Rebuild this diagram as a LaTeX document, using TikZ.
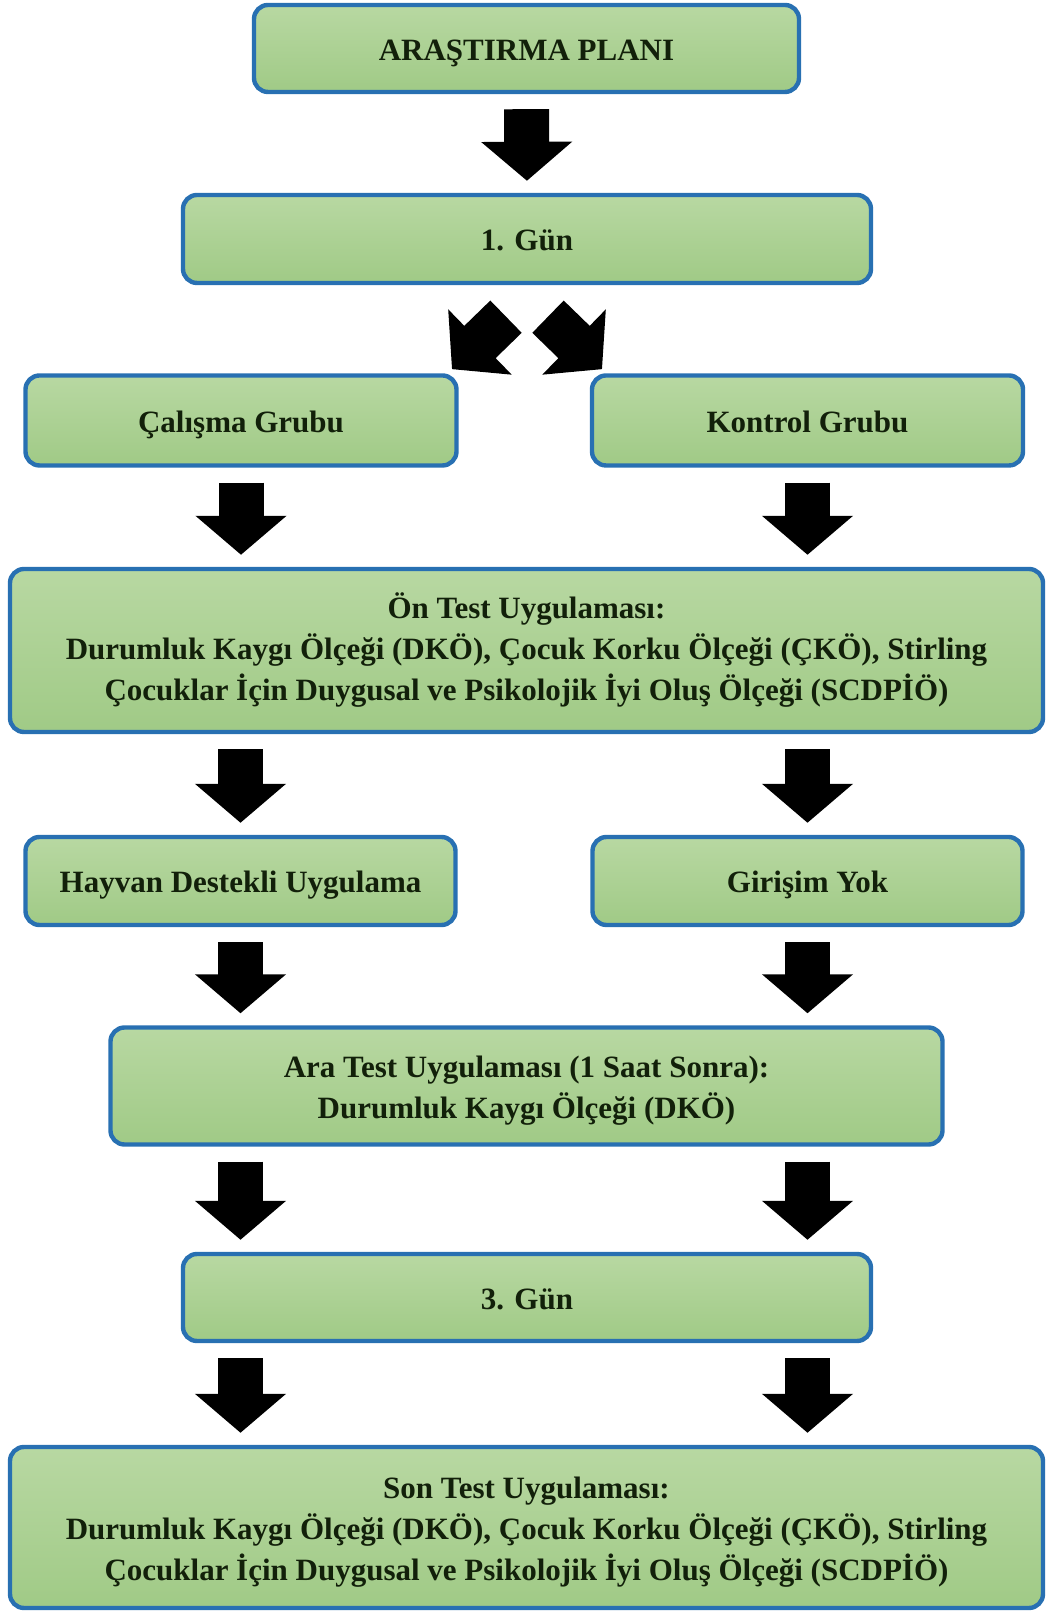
\documentclass[tikz,border=0pt]{standalone}
\usepackage{fontspec}
\setmainfont{Liberation Serif}
\usetikzlibrary{arrows.meta}

\definecolor{boxblue}{RGB}{40,112,178}
\definecolor{boxtop}{RGB}{184,216,162}
\definecolor{boxbot}{RGB}{160,202,134}
\definecolor{boxtext}{RGB}{18,32,10}

\newcommand{\ilkdestek}{\rule{0pt}{1em}}

\tikzset{
  box/.style={draw=boxblue, line width=2.2pt, rounded corners=7pt,
    top color=boxtop, bottom color=boxbot, text=boxtext, align=center,
    font=\fontsize{15.5}{20.5}\selectfont\bfseries, inner sep=0pt},
  onebox/.style={box, text height=1.4em, text depth=0.22em},
  blockarr/.style={line width=22.5pt, -{Triangle[length=19.5pt,width=44.5pt]},
    shorten <=7.5pt, shorten >=6pt},
}

\begin{document}
\begin{tikzpicture}[x=0.5pt,y=0.5pt]
\useasboundingbox (0,0) rectangle (1047,1611);

% kutular
\node[onebox, minimum width=272.5pt, minimum height=43.5pt] (plan) at (526.5,1562.5) {ARAŞTIRMA PLANI};
\node[onebox, minimum width=344pt, minimum height=44pt] (gun1) at (527,1372) {1. Gün};
\node[onebox, minimum width=215.5pt, minimum height=45pt] (calisma) at (241,1190.5) {Çalışma Grubu};
\node[onebox, minimum width=215.5pt, minimum height=45pt] (kontrol) at (807.5,1190.5) {Kontrol Grubu};
\node[box, minimum width=516.5pt, minimum height=81.5pt] (ontest) at (526.5,960.5)
  {Ön Test Uygulaması:\\
   Durumluk Kaygı Ölçeği (DKÖ), Çocuk Korku Ölçeği (ÇKÖ), Stirling\\
   Çocuklar İçin Duygusal ve Psikolojik İyi Oluş Ölçeği (SCDPİÖ)};
\node[onebox, minimum width=215pt, minimum height=44pt] (hayvan) at (240.5,730) {Hayvan Destekli Uygulama};
\node[onebox, minimum width=215pt, minimum height=44pt] (girisim) at (807.5,730) {Girişim Yok};
\node[box, minimum width=416pt, minimum height=58.5pt] (aratest) at (526.5,525)
  {\ilkdestek Ara Test Uygulaması (1 Saat Sonra):\\
   Durumluk Kaygı Ölçeği (DKÖ)};
\node[onebox, minimum width=344pt, minimum height=43.5pt] (gun3) at (527,313.5) {3. Gün};
\node[box, minimum width=516.5pt, minimum height=80.5pt] (sontest) at (526.5,83.5)
  {\ilkdestek Son Test Uygulaması:\\
   Durumluk Kaygı Ölçeği (DKÖ), Çocuk Korku Ölçeği (ÇKÖ), Stirling\\
   Çocuklar İçin Duygusal ve Psikolojik İyi Oluş Ölçeği (SCDPİÖ)};

% oklar
\draw[blockarr] (plan.south) -- (gun1.north);

\coordinate (solbas) at ([shift={(-21,-31.5)}]gun1.south);
\coordinate (saguc) at ([shift={(75,-84)}]gun1.south);
\coordinate (sagbas) at ([shift={(21,-31.5)}]gun1.south);
\coordinate (soluc) at ([shift={(-75,-84)}]gun1.south);
\draw[blockarr, shorten <=0pt, shorten >=0pt] (solbas) -- (soluc);
\draw[blockarr, shorten <=0pt, shorten >=0pt] (sagbas) -- (saguc);

\draw[blockarr] (calisma.south) -- (ontest.north -| calisma.south);
\draw[blockarr] (kontrol.south) -- (ontest.north -| kontrol.south);

\draw[blockarr] (ontest.south -| hayvan.north) -- (hayvan.north);
\draw[blockarr] (ontest.south -| girisim.north) -- (girisim.north);

\draw[blockarr] (hayvan.south) -- (aratest.north -| hayvan.south);
\draw[blockarr] (girisim.south) -- (aratest.north -| girisim.south);

\draw[blockarr] (aratest.south -| hayvan.south) -- (gun3.north -| hayvan.south);
\draw[blockarr] (aratest.south -| girisim.south) -- (gun3.north -| girisim.south);

\draw[blockarr] (gun3.south -| hayvan.south) -- (sontest.north -| hayvan.south);
\draw[blockarr] (gun3.south -| girisim.south) -- (sontest.north -| girisim.south);
\end{tikzpicture}
\end{document}
